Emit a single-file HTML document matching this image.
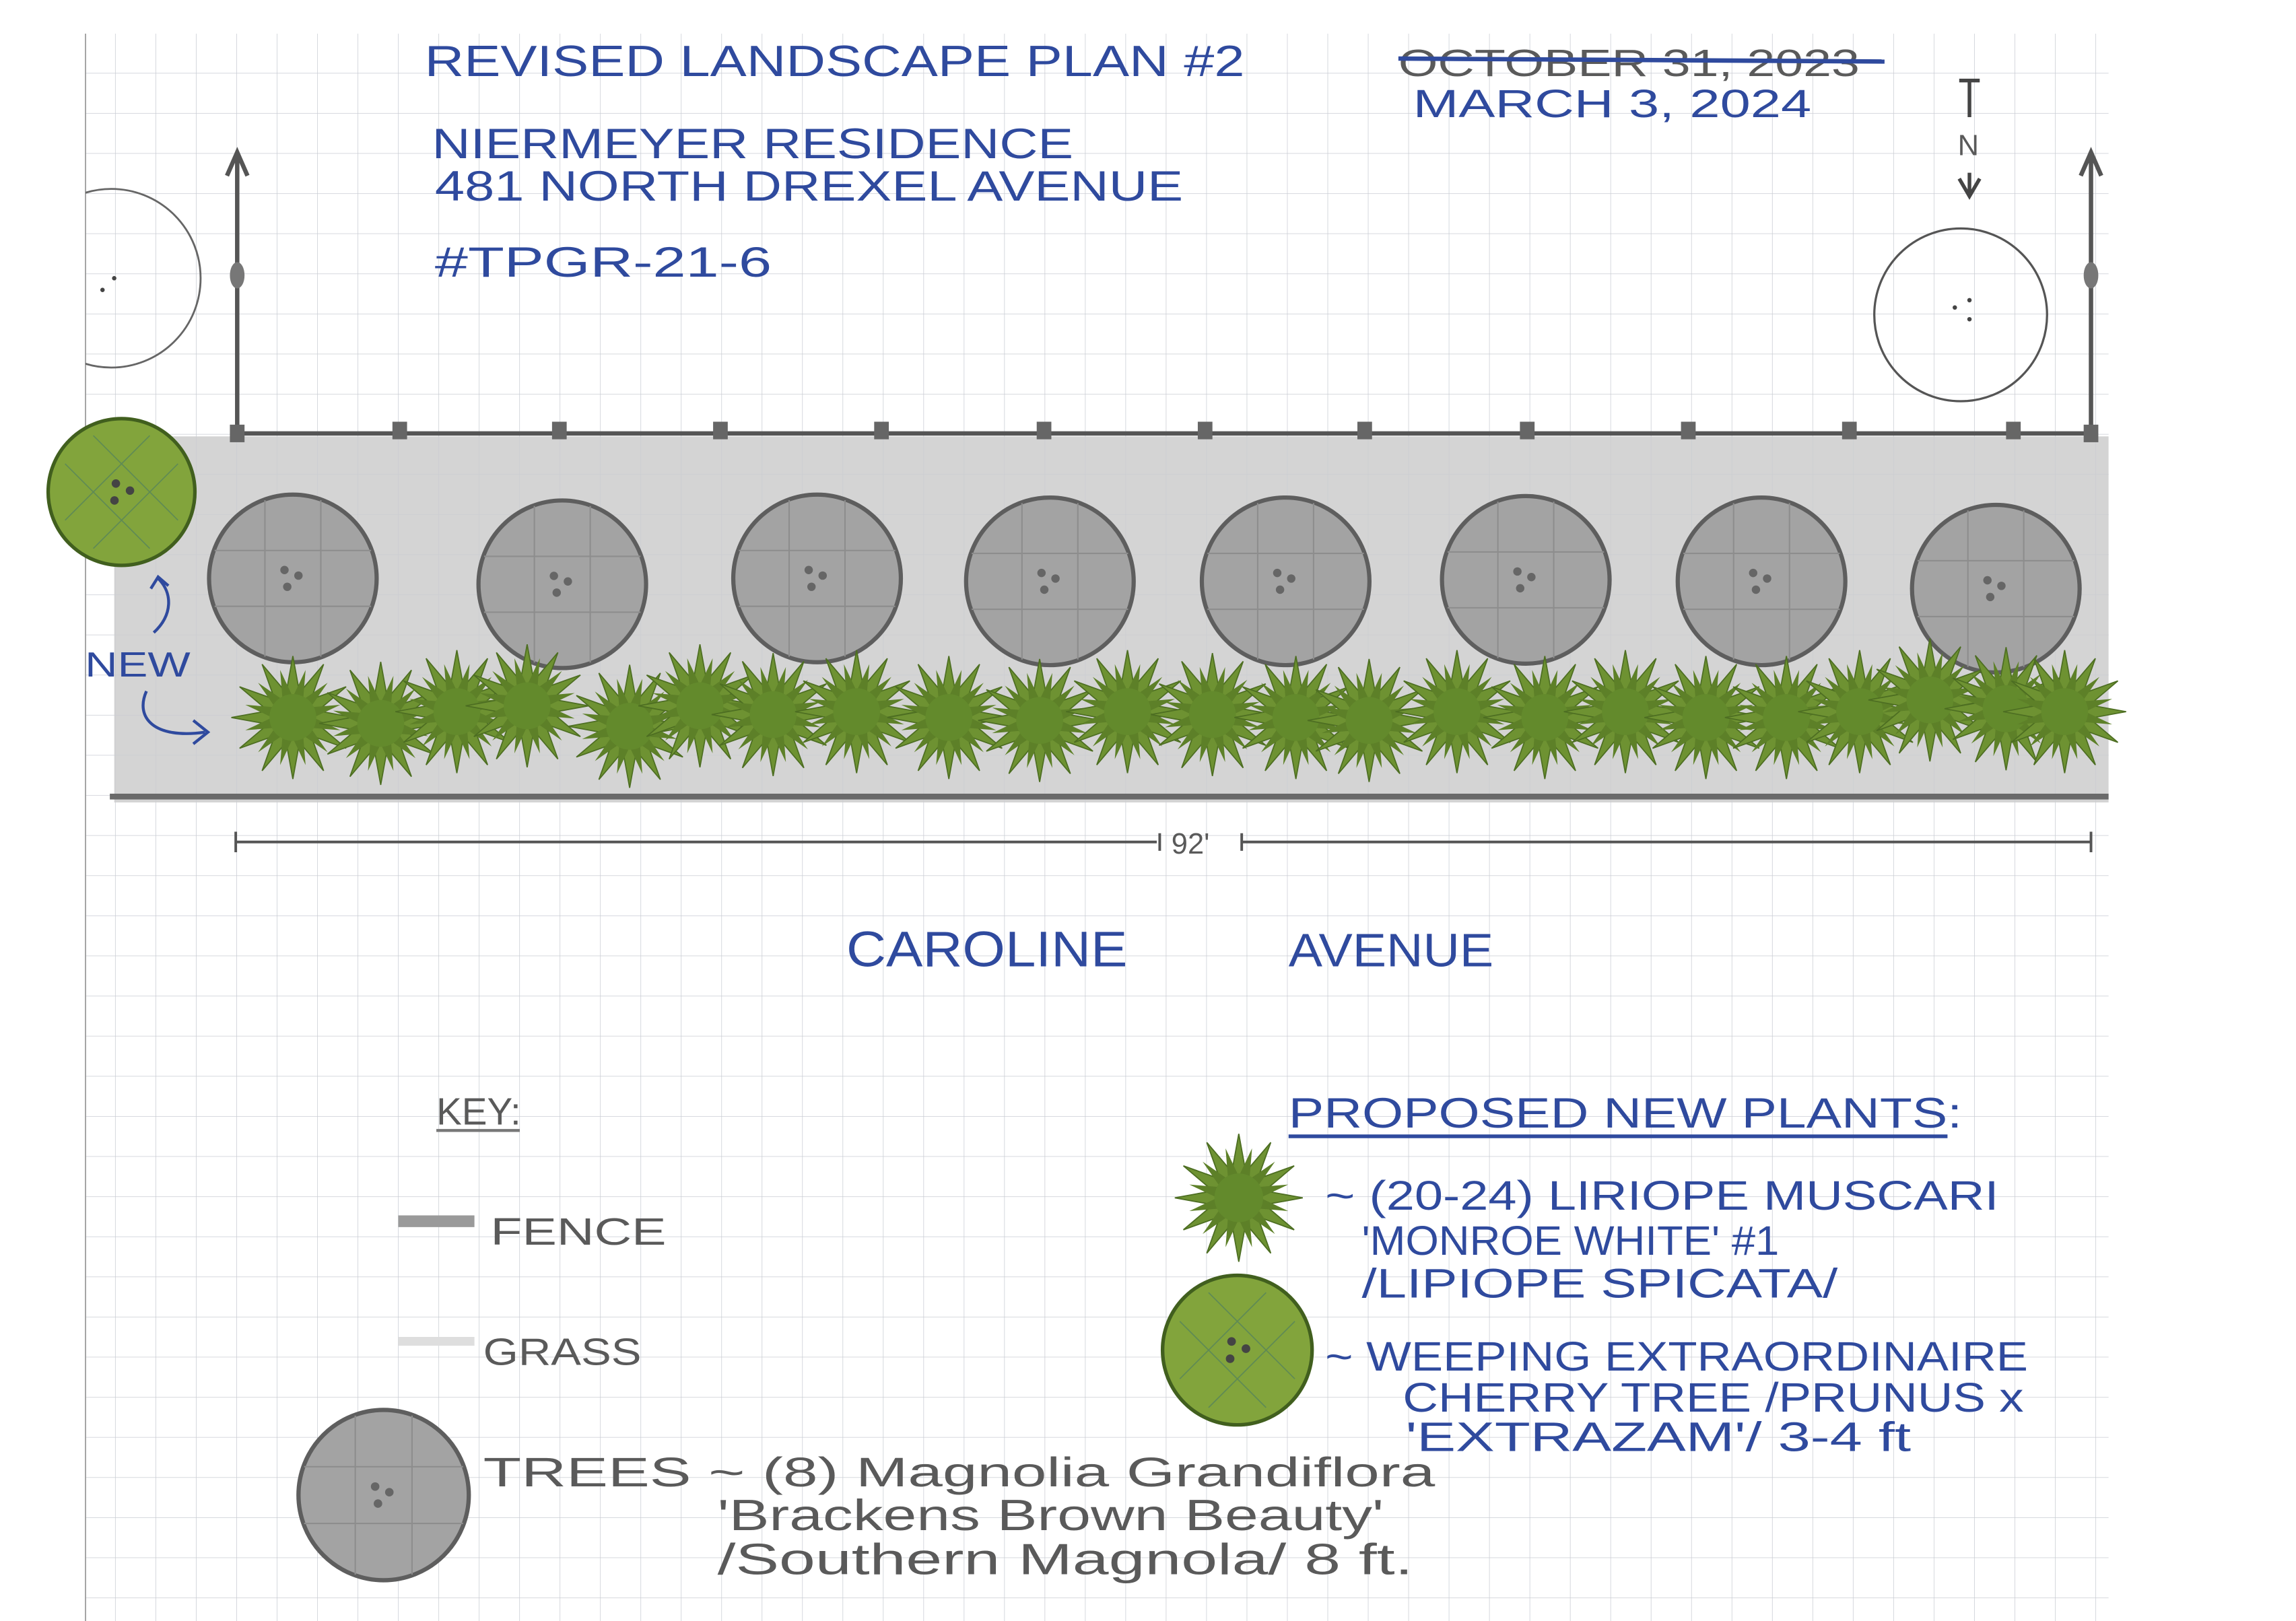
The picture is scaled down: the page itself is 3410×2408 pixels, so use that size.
<!DOCTYPE html>
<html><head><meta charset="utf-8"><style>
html,body{margin:0;padding:0;background:#fff;}
svg{display:block;}
.b{font-family:"Liberation Sans",sans-serif;fill:#2f4a9e;}
.g{font-family:"Liberation Sans",sans-serif;fill:#5a5a5a;}
</style></head><body>
<svg width="3410" height="2408" viewBox="0 0 1568 1107" preserveAspectRatio="none" xmlns="http://www.w3.org/2000/svg">
<defs>
<pattern id="grid" x="51" y="22.4" width="27.6" height="27.4" patternUnits="userSpaceOnUse">
<path d="M0 0V27.4M0 0H27.6" stroke="#c9ccd3" stroke-width="0.7" fill="none"/>
</pattern>
<clipPath id="lc"><rect x="58.4" y="0" width="200" height="400"/></clipPath>
<g id="spk"><polygon points="0,-42 6,-9 -6,-9"/></g>
<symbol id="shrub" viewBox="-50 -50 100 100" overflow="visible">
<g fill="#6e9232" stroke="#4d6e22" stroke-width="0.8">
<use href="#spk" transform="rotate(0)"/><use href="#spk" transform="rotate(30)"/><use href="#spk" transform="rotate(60)"/><use href="#spk" transform="rotate(90)"/><use href="#spk" transform="rotate(120)"/><use href="#spk" transform="rotate(150)"/><use href="#spk" transform="rotate(180)"/><use href="#spk" transform="rotate(210)"/><use href="#spk" transform="rotate(240)"/><use href="#spk" transform="rotate(270)"/><use href="#spk" transform="rotate(300)"/><use href="#spk" transform="rotate(330)"/>
</g>
<g fill="#5d8028" transform="scale(0.8)">
<use href="#spk" transform="rotate(15)"/><use href="#spk" transform="rotate(45)"/><use href="#spk" transform="rotate(75)"/><use href="#spk" transform="rotate(105)"/><use href="#spk" transform="rotate(135)"/><use href="#spk" transform="rotate(165)"/><use href="#spk" transform="rotate(195)"/><use href="#spk" transform="rotate(225)"/><use href="#spk" transform="rotate(255)"/><use href="#spk" transform="rotate(285)"/><use href="#spk" transform="rotate(315)"/><use href="#spk" transform="rotate(345)"/>
</g>
<circle r="16" fill="#638a2c"/>
</symbol>
<symbol id="tree" viewBox="-65 -65 130 130" overflow="visible">
<circle r="60" fill="#a3a3a3" stroke="#5e5e5e" stroke-width="3"/>
<path d="M-20 -56V56M20 -56V56M-56 -20H56M-56 20H56" stroke="#8d8d8d" stroke-width="1"/>
<circle cx="-6" cy="-6" r="3" fill="#666"/><circle cx="4" cy="-2" r="3" fill="#666"/><circle cx="-4" cy="6" r="3" fill="#666"/>
</symbol>
<symbol id="cherry" viewBox="-55 -55 110 110" overflow="visible">
<circle r="52" fill="#82a43c" stroke="#415f1e" stroke-width="2.5"/>
<path d="M-40 -20L20 40M-20 -40L40 20M-40 20L20 -40M-20 40L40 -20" stroke="#5f8a55" stroke-width="0.8"/>
<circle cx="-4" cy="-6" r="3" fill="#444"/><circle cx="6" cy="-1" r="3" fill="#444"/><circle cx="-5" cy="6" r="3" fill="#444"/>
</symbol>
</defs>
<rect width="1568" height="1107" fill="#fff"/>
<rect x="58.4" y="23" width="1381.6" height="1084" fill="url(#grid)"/>
<line x1="58.4" y1="23" x2="58.4" y2="1107" stroke="#999" stroke-width="0.8"/>

<text class="b" x="290" y="52" font-size="30" textLength="560" lengthAdjust="spacingAndGlyphs">REVISED LANDSCAPE PLAN #2</text>
<text class="b" x="295" y="108" font-size="29" textLength="438" lengthAdjust="spacingAndGlyphs">NIERMEYER RESIDENCE</text>
<text class="b" x="297" y="137" font-size="29" textLength="511" lengthAdjust="spacingAndGlyphs">481 NORTH DREXEL AVENUE</text>
<text class="b" x="297" y="189" font-size="29" textLength="230" lengthAdjust="spacingAndGlyphs">#TPGR-21-6</text>
<text class="g" x="955" y="52" font-size="26" fill="#555" textLength="315" lengthAdjust="spacingAndGlyphs">OCTOBER 31, 2023</text>
<line x1="955" y1="40" x2="1287" y2="42" stroke="#2f4a9e" stroke-width="3"/>
<text class="b" x="965" y="80" font-size="27" textLength="272" lengthAdjust="spacingAndGlyphs">MARCH 3, 2024</text>

<g stroke="#444" stroke-width="2.5" fill="none">
<path d="M1338 55H1352M1345 55V80M1345 118V133M1338 122L1345 134L1352 122"/>
</g>
<text class="g" x="1337" y="106" font-size="20" fill="#444">N</text>

<g stroke="#555" stroke-width="3" fill="none">
<path d="M162 298V106M155 120L162 104L169 120"/>
<path d="M1428 298V106M1421 120L1428 104L1435 120"/>
</g>
<ellipse cx="162" cy="188" rx="5" ry="9" fill="#777"/>
<ellipse cx="1428" cy="188" rx="5" ry="9" fill="#777"/>

<circle cx="76" cy="190" r="61" fill="none" stroke="#666" stroke-width="1.3" clip-path="url(#lc)"/>
<circle cx="1339" cy="215" r="59" fill="none" stroke="#555" stroke-width="1.5"/>
<circle cx="1335" cy="210" r="1.5" fill="#444"/><circle cx="1345" cy="205" r="1.5" fill="#444"/><circle cx="1345" cy="218" r="1.5" fill="#444"/>
<circle cx="78" cy="190" r="1.5" fill="#444"/><circle cx="70" cy="198" r="1.5" fill="#444"/>

<rect x="78" y="298" width="1362" height="250" fill="#cfcfcf" opacity="0.9"/>
<rect x="78" y="298" width="1362" height="250" fill="url(#grid)" opacity="0.6"/>
<line x1="75" y1="544" x2="1440" y2="544" stroke="#6a6a6a" stroke-width="4"/>

<line x1="160" y1="296" x2="1432" y2="296" stroke="#555" stroke-width="3"/>
<g fill="#666">
<rect x="157" y="290" width="10" height="12"/><rect x="268" y="288" width="10" height="12"/><rect x="377" y="288" width="10" height="12"/><rect x="487" y="288" width="10" height="12"/><rect x="597" y="288" width="10" height="12"/><rect x="708" y="288" width="10" height="12"/><rect x="818" y="288" width="10" height="12"/><rect x="927" y="288" width="10" height="12"/><rect x="1038" y="288" width="10" height="12"/><rect x="1148" y="288" width="10" height="12"/><rect x="1258" y="288" width="10" height="12"/><rect x="1370" y="288" width="10" height="12"/><rect x="1423" y="290" width="10" height="12"/>
</g>

<use href="#tree" x="138" y="333" width="124" height="124"/>
<use href="#tree" x="322" y="337" width="124" height="124"/>
<use href="#tree" x="496" y="333" width="124" height="124"/>
<use href="#tree" x="655" y="335" width="124" height="124"/>
<use href="#tree" x="816" y="335" width="124" height="124"/>
<use href="#tree" x="980" y="334" width="124" height="124"/>
<use href="#tree" x="1141" y="335" width="124" height="124"/>
<use href="#tree" x="1301" y="340" width="124" height="124"/>

<use href="#cherry" x="30" y="283" width="106" height="106"/>

<g>
<use href="#shrub" x="150" y="440" width="100" height="100"/>
<use href="#shrub" x="210" y="444" width="100" height="100"/>
<use href="#shrub" x="262" y="436" width="100" height="100"/>
<use href="#shrub" x="310" y="432" width="100" height="100"/>
<use href="#shrub" x="380" y="446" width="100" height="100"/>
<use href="#shrub" x="428" y="432" width="100" height="100"/>
<use href="#shrub" x="478" y="438" width="100" height="100"/>
<use href="#shrub" x="535" y="436" width="100" height="100"/>
<use href="#shrub" x="598" y="440" width="100" height="100"/>
<use href="#shrub" x="660" y="442" width="100" height="100"/>
<use href="#shrub" x="720" y="436" width="100" height="100"/>
<use href="#shrub" x="778" y="438" width="100" height="100"/>
<use href="#shrub" x="835" y="440" width="100" height="100"/>
<use href="#shrub" x="885" y="442" width="100" height="100"/>
<use href="#shrub" x="945" y="436" width="100" height="100"/>
<use href="#shrub" x="1005" y="440" width="100" height="100"/>
<use href="#shrub" x="1060" y="436" width="100" height="100"/>
<use href="#shrub" x="1115" y="440" width="100" height="100"/>
<use href="#shrub" x="1170" y="440" width="100" height="100"/>
<use href="#shrub" x="1220" y="436" width="100" height="100"/>
<use href="#shrub" x="1268" y="428" width="100" height="100"/>
<use href="#shrub" x="1320" y="434" width="100" height="100"/>
<use href="#shrub" x="1360" y="436" width="100" height="100"/>
</g>

<text class="b" x="58" y="462" font-size="24" textLength="72" lengthAdjust="spacingAndGlyphs">NEW</text>
<g stroke="#2f4a9e" stroke-width="2" fill="none">
<path d="M105 432C118 420 118 405 108 395M103 402L108 394L115 400"/>
<path d="M100 472C92 490 105 505 140 500M132 492L142 500L132 508"/>
</g>

<g stroke="#555" stroke-width="1.8" fill="none">
<path d="M161 575H790M848 575H1428M161 568V582M1428 568V582M792 569V581M848 569V581"/>
</g>
<text class="g" x="800" y="583" font-size="20" fill="#555">92'</text>

<text class="b" x="578" y="660" font-size="34" textLength="192" lengthAdjust="spacingAndGlyphs">CAROLINE</text>
<text class="b" x="880" y="660" font-size="32" textLength="140" lengthAdjust="spacingAndGlyphs">AVENUE</text>

<text class="g" x="298" y="768" font-size="26" fill="#777">KEY:</text>
<line x1="298" y1="772" x2="355" y2="772" stroke="#777" stroke-width="2"/>
<rect x="272" y="830" width="52" height="8" fill="#9a9a9a"/>
<text class="g" x="335" y="850" font-size="26" fill="#666" textLength="120" lengthAdjust="spacingAndGlyphs">FENCE</text>
<rect x="272" y="913" width="52" height="6" fill="#dedede"/>
<text class="g" x="330" y="932" font-size="26" fill="#888" textLength="108" lengthAdjust="spacingAndGlyphs">GRASS</text>
<use href="#tree" x="199" y="958" width="126" height="126"/>
<text class="g" x="330" y="1015" font-size="28" fill="#555" textLength="650" lengthAdjust="spacingAndGlyphs">TREES ~ (8) Magnolia Grandiflora</text>
<text class="g" x="490" y="1045" font-size="30" fill="#555" textLength="455" lengthAdjust="spacingAndGlyphs">'Brackens Brown Beauty'</text>
<text class="g" x="490" y="1075" font-size="30" fill="#555" textLength="475" lengthAdjust="spacingAndGlyphs">/Southern Magnola/ 8 ft.</text>

<text class="b" x="880" y="770" font-size="29" textLength="460" lengthAdjust="spacingAndGlyphs">PROPOSED NEW PLANTS:</text>
<line x1="880" y1="776" x2="1330" y2="776" stroke="#2f4a9e" stroke-width="2.5"/>
<use href="#shrub" x="794" y="766" width="104" height="104"/>
<text class="b" x="905" y="826" font-size="28" textLength="460" lengthAdjust="spacingAndGlyphs">~ (20-24) LIRIOPE MUSCARI</text>
<text class="b" x="930" y="857" font-size="28" textLength="285" lengthAdjust="spacingAndGlyphs">'MONROE WHITE' #1</text>
<text class="b" x="930" y="886" font-size="28" textLength="325" lengthAdjust="spacingAndGlyphs">/LIPIOPE SPICATA/</text>
<use href="#cherry" x="791" y="868" width="108" height="108"/>
<text class="b" x="905" y="936" font-size="28" textLength="480" lengthAdjust="spacingAndGlyphs">~ WEEPING EXTRAORDINAIRE</text>
<text class="b" x="958" y="964" font-size="28" textLength="424" lengthAdjust="spacingAndGlyphs">CHERRY TREE /PRUNUS x</text>
<text class="b" x="960" y="991" font-size="28" textLength="345" lengthAdjust="spacingAndGlyphs">'EXTRAZAM'/ 3-4 ft</text>
</svg>
</body></html>
